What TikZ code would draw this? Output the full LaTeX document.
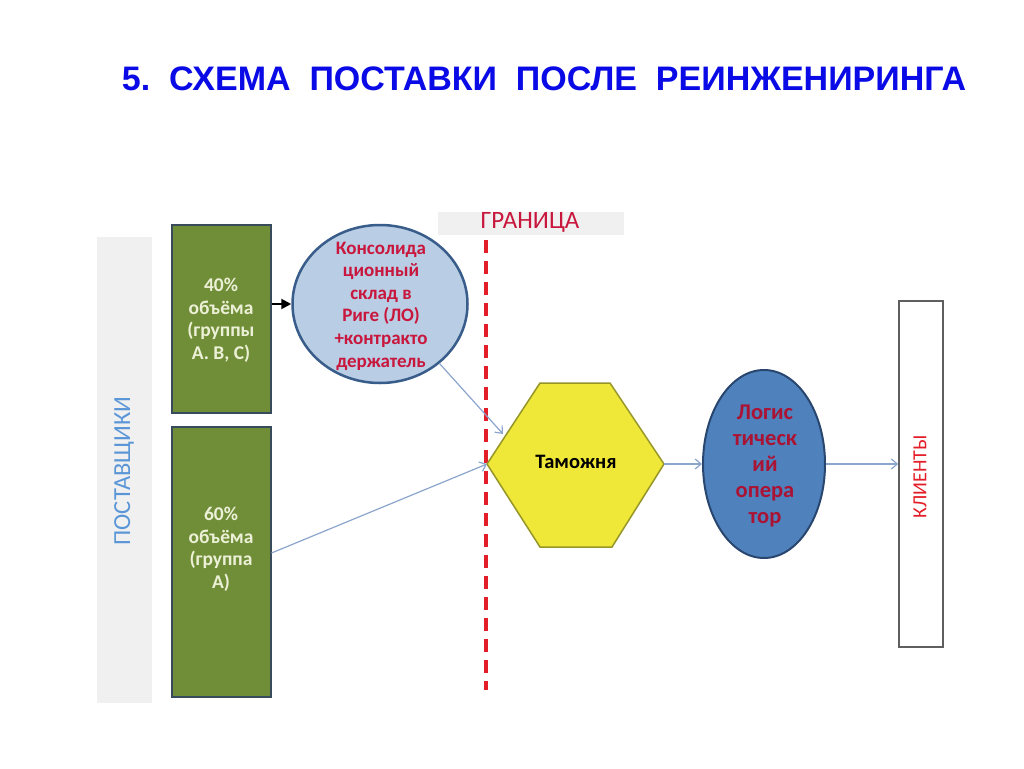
\documentclass[tikz,border=0pt]{standalone}
\usepackage{fontspec}
\setmainfont{Carlito}
\newfontfamily\carl{Carlito}
\newfontfamily\arl{Liberation Sans}
\usetikzlibrary{shapes.geometric,arrows.meta}
\definecolor{ttlblue}{RGB}{10,10,230}
\definecolor{bandgray}{RGB}{240,240,240}
\definecolor{olivegr}{RGB}{112,142,56}
\definecolor{olivebd}{RGB}{55,75,90}
\definecolor{creamtx}{RGB}{236,240,214}
\definecolor{lblue}{RGB}{185,205,229}
\definecolor{lbluebd}{RGB}{56,93,138}
\definecolor{crim}{RGB}{200,22,60}
\definecolor{dashred}{RGB}{228,30,40}
\definecolor{hexyel}{RGB}{240,232,56}
\definecolor{hexbd}{RGB}{150,150,40}
\definecolor{midblue}{RGB}{79,129,189}
\definecolor{midbluebd}{RGB}{40,70,110}
\definecolor{conn}{RGB}{140,165,205}
\definecolor{supblue}{RGB}{90,150,215}
\begin{document}
\begin{tikzpicture}[x=1pt,y=-1pt,
  greenbox/.style={draw=olivebd,line width=2pt,fill=olivegr,inner sep=0pt},
  greentxt/.style={text=creamtx,align=center,font=\carl\bfseries\fontsize{19.5}{22.5}\selectfont},
  thinconn/.style={draw=conn,line width=1.2pt,-{Straight Barb[length=6pt,width=10pt]}},
  band/.style={fill=bandgray,draw=none,inner sep=0pt}
]
\useasboundingbox (0,0) rectangle (1024,768);
\fill[white] (0,0) rectangle (1024,768);

% title
\node[text=ttlblue,font=\arl\bfseries\fontsize{34}{40}\selectfont] (title) at (544,79)
  {5.\ \ СХЕМА\ \ ПОСТАВКИ\ \ ПОСЛЕ\ \ РЕИНЖЕНИРИНГА};

% suppliers band
\node[band,minimum width=55pt,minimum height=466pt] (supband) at (124.5,470) {};
\node[rotate=90,text=supblue,font=\carl\fontsize{24.5}{28}\selectfont] (suptxt) at (124,471) {ПОСТАВЩИКИ};

% green boxes
\node[greenbox,minimum width=99pt,minimum height=188pt] (b1) at (221,319) {};
\node[greentxt] (b1t) at (221,320) {40\%\\объёма\\(группы\\А. В, С)};
\node[greenbox,minimum width=99pt,minimum height=270pt] (b2) at (221,562) {};
\node[greentxt] (b2t) at (221,549) {60\%\\объёма\\(группа\\А)};

% consolidation warehouse
\node[ellipse,draw=lbluebd,line width=2.5pt,fill=lblue,minimum width=175pt,minimum height=158pt,inner sep=0pt] (cons) at (380,304) {};
\node[text=crim,align=center,font=\carl\bfseries\fontsize{19}{22.6}\selectfont] (const) at (381,306)
  {Консолида\\ционный\\склад в\\Риге (ЛО)\\+контракто\\держатель};

% border
\node[band,minimum width=186pt,minimum height=23pt] (brdband) at (531,223) {};
\node[text=crim,font=\carl\fontsize{25}{28}\selectfont] (brdtxt) at (530,222) {ГРАНИЦА};
\coordinate (dtop) at (486,240);
\coordinate (dbot) at (486,690);
\draw[dashred,line width=4pt,dash pattern=on 13pt off 8pt] (dtop) -- (dbot);

% customs hexagon
\coordinate (hexL) at (487,464);
\coordinate (hexTL) at (540,383);
\coordinate (hexTR) at (610,383);
\coordinate (hexR) at (664,464);
\coordinate (hexBR) at (612,547);
\coordinate (hexBL) at (540,547);
\coordinate (hexUL) at (503,434);
\draw[hexbd,fill=hexyel,line width=1.5pt] (hexL) -- (hexTL) -- (hexTR) -- (hexR) -- (hexBR) -- (hexBL) -- cycle;
\node[font=\carl\bfseries\fontsize{20.5}{22}\selectfont] (tam) at (576,462) {Таможня};

% logistics operator
\node[ellipse,draw=midbluebd,line width=2pt,fill=midblue,minimum width=122pt,minimum height=188pt,inner sep=0pt] (lo) at (764,464) {};
\node[text=crim!85!black,align=center,font=\carl\bfseries\fontsize{22.5}{26}\selectfont] (lot) at (765,466)
  {Логис\\тическ\\ий\\опера\\тор};

% clients
\node[draw={rgb,255:red,95;green,95;blue,95},line width=1.5pt,fill=white,minimum width=44pt,minimum height=346pt,inner sep=0pt] (kl) at (921,474) {};
\node[rotate=90,text=dashred,font=\carl\fontsize{20}{24}\selectfont] (klt) at (920,477) {КЛИЕНТЫ};

% connectors
\draw[black,line width=2pt,-{Triangle[length=10pt,width=10pt]}] (b1.east |- cons.west) -- (cons.west);
\draw[thinconn] (cons.-45) -- (hexUL);
\draw[thinconn] ([yshift=9pt]b2.east) -- (hexL);
\draw[thinconn] (hexR) -- (lo.west);
\draw[thinconn] (lo.east) -- (lo.east -| kl.west);
\end{tikzpicture}
\end{document}
